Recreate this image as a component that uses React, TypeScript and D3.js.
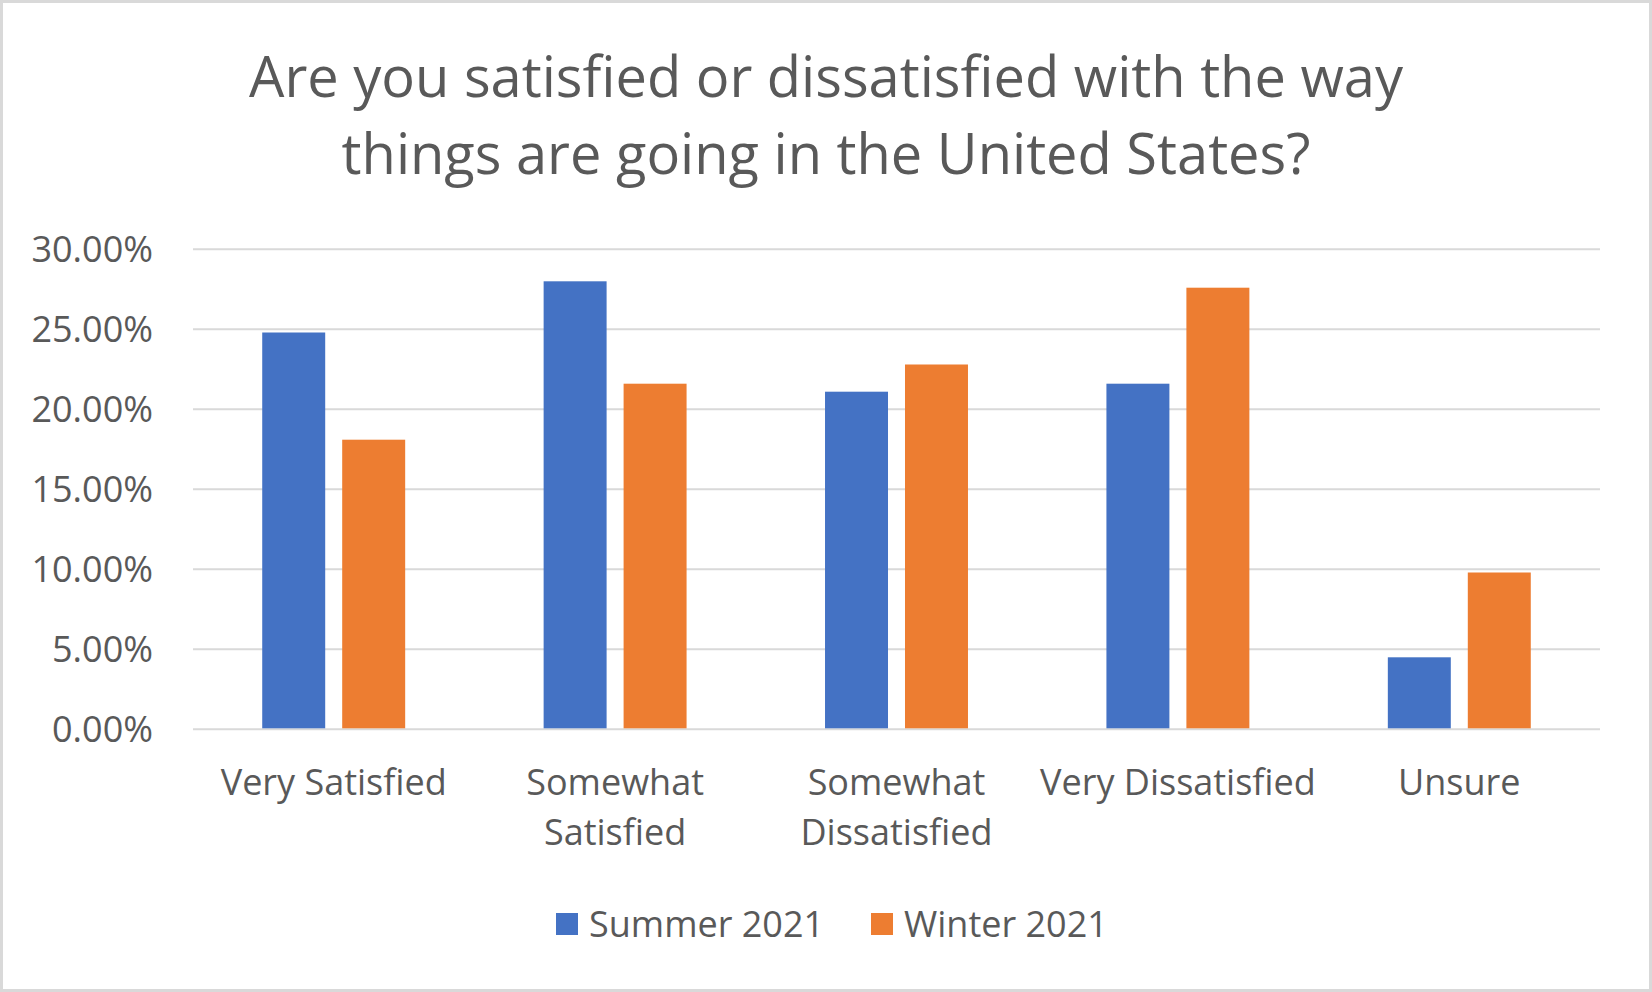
import React from 'react'
import * as d3 from 'd3'

const categories = ['Very Satisfied', 'Somewhat Satisfied', 'Somewhat Dissatisfied', 'Very Dissatisfied', 'Unsure']
// how excel wrapped the axis labels
const categoryLines = [['Very Satisfied'], ['Somewhat', 'Satisfied'], ['Somewhat', 'Dissatisfied'], ['Very Dissatisfied'], ['Unsure']]
const seriesNames = ['Summer 2021', 'Winter 2021']
const summer2021 = [24.8, 28.0, 21.1, 21.6, 4.5]
const winter2021 = [18.1, 21.6, 22.8, 27.6, 9.8]
const yTicks = [0, 5, 10, 15, 20, 25, 30]
const titleLines = ['Are you satisfied or dissatisfied with the way', 'things are going in the United States?']

const colors = ['#4472C4', '#ED7D31']
const textColor = '#595959'
const gridColor = '#D9D9D9'
const font = '"Open Sans", "Noto Sans", sans-serif'

export default function App() {
  const width = 1652
  const height = 992
  const plot = { left: 193, right: 1600, top: 249.3, bottom: 729.3 }

  const x0 = d3.scaleBand<string>()
    .domain(categories)
    .range([plot.left, plot.right])

  // bars: 63px wide with a 17px gap inside a ~143px group
  const groupWidth = x0.bandwidth() * 0.508
  const x1 = d3.scaleBand<string>()
    .domain(seriesNames)
    .range([0, groupWidth])
    .paddingInner(0.2125)

  const y = d3.scaleLinear()
    .domain([0, 30])
    .range([plot.bottom, plot.top])

  const series = [summer2021, winter2021]

  return (
    <svg
      width={width}
      height={height}
      style={{ position: 'fixed', left: 0, top: 0, background: '#fff' }}
      fontFamily={font}
    >
      <rect x={1.5} y={1.5} width={width - 3} height={height - 3} fill="#fff" stroke={gridColor} strokeWidth={3} />

      {/* title */}
      {titleLines.map((t, i) => (
        <text key={t} x={width / 2} y={97 + i * 77} textAnchor="middle" fontSize={56} fill={textColor}>{t}</text>
      ))}

      {/* gridlines + y labels */}
      {yTicks.map(t => (
        <g key={t}>
          <line x1={plot.left} x2={plot.right} y1={y(t)} y2={y(t)} stroke={gridColor} strokeWidth={2} />
          <text x={153} y={y(t) + 12.5} textAnchor="end" fontSize={36} fill={textColor}>
            {d3.format('.2f')(t)}%
          </text>
        </g>
      ))}

      {/* bars */}
      {categories.map((c, ci) => {
        const gx = x0(c)! + (x0.bandwidth() - groupWidth) / 2
        return (
          <g key={c} transform={`translate(${gx},0)`}>
            {seriesNames.map((s, si) => (
              <rect
                key={s}
                x={x1(s)}
                y={y(series[si][ci])}
                width={x1.bandwidth()}
                height={y(0) - y(series[si][ci]) - 1}
                fill={colors[si]}
              />
            ))}
          </g>
        )
      })}

      {/* category labels */}
      {categories.map((c, ci) => (
        <text key={c} x={x0(c)! + x0.bandwidth() / 2} y={795} textAnchor="middle" fontSize={36} fill={textColor}>
          {categoryLines[ci].map((l, li) => (
            <tspan key={l} x={x0(c)! + x0.bandwidth() / 2} dy={li === 0 ? 0 : 50}>{l}</tspan>
          ))}
        </text>
      ))}

      {/* legend */}
      {seriesNames.map((s, si) => {
        const lx = si === 0 ? 556 : 871
        return (
          <g key={s}>
            <rect x={lx} y={913} width={22} height={22} fill={colors[si]} />
            <text x={lx + 33} y={937} fontSize={36} fill={textColor}>{s}</text>
          </g>
        )
      })}
    </svg>
  )
}
